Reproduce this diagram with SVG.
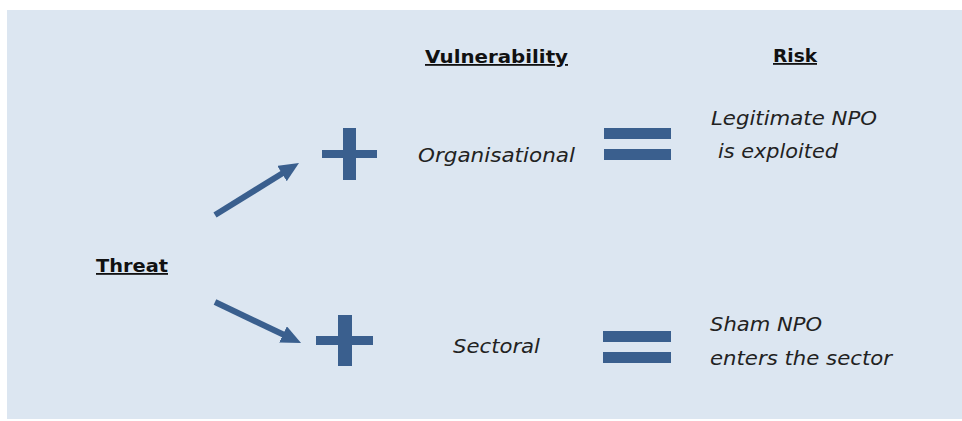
<svg xmlns="http://www.w3.org/2000/svg" width="962" height="421" viewBox="0 0 962 421">
<style>
.hd{font-family:"DejaVu Sans","Liberation Sans",sans-serif;font-weight:bold;font-size:18px;fill:#111;text-decoration:underline;}
.it{font-family:"DejaVu Sans","Liberation Sans",sans-serif;font-style:italic;font-size:19px;fill:#222;}
.sh{fill:#3a5f8e;}
.ar{stroke:#3a5f8e;stroke-width:6;fill:none;}
</style>
<defs>
<marker id="ah" markerUnits="userSpaceOnUse" markerWidth="20" markerHeight="18" refX="2" refY="9" orient="auto" viewBox="0 0 20 18">
<path d="M0,0 L20,9 L0,18 z" fill="#3a5f8e"/>
</marker>
</defs>
<rect x="0" y="0" width="962" height="421" fill="#ffffff"/>
<rect x="7" y="10" width="955" height="409" fill="#dce6f1"/>
<g id="header-vulnerability"><text class="hd" x="425" y="63" textLength="143" lengthAdjust="spacingAndGlyphs">Vulnerability</text></g>
<g id="header-risk"><text class="hd" x="773" y="62" textLength="44" lengthAdjust="spacingAndGlyphs">Risk</text></g>
<g id="threat"><text class="hd" x="96" y="272" textLength="72" lengthAdjust="spacingAndGlyphs">Threat</text></g>
<g id="plus-top" class="sh">
<rect x="322" y="150" width="55" height="8"/>
<rect x="343" y="128" width="13" height="52"/>
</g>
<g id="plus-bottom" class="sh">
<rect x="316" y="336" width="57" height="9"/>
<rect x="338" y="315" width="14" height="51"/>
</g>
<g id="organisational"><text class="it" x="418" y="162" textLength="157" lengthAdjust="spacingAndGlyphs">Organisational</text></g>
<g id="sectoral"><text class="it" x="453" y="353" textLength="87" lengthAdjust="spacingAndGlyphs">Sectoral</text></g>
<g id="equals-top" class="sh">
<rect x="604" y="128" width="67" height="11"/>
<rect x="604" y="149" width="67" height="11"/>
</g>
<g id="equals-bottom" class="sh">
<rect x="603" y="331" width="68" height="11"/>
<rect x="603" y="352" width="68" height="11"/>
</g>
<g id="risk-legitimate">
<text class="it" x="711" y="125" textLength="166" lengthAdjust="spacingAndGlyphs">Legitimate NPO</text>
<text class="it" x="718" y="158" textLength="120" lengthAdjust="spacingAndGlyphs">is exploited</text>
</g>
<g id="risk-sham">
<text class="it" x="710" y="331" textLength="112" lengthAdjust="spacingAndGlyphs">Sham NPO</text>
<text class="it" x="710" y="365" textLength="182" lengthAdjust="spacingAndGlyphs">enters the sector</text>
</g>
<g id="connectors">
<line class="ar" x1="215" y1="215" x2="283.7" y2="172.5" marker-end="url(#ah)"/>
<line class="ar" x1="215" y1="302" x2="284.8" y2="335.3" marker-end="url(#ah)"/>
</g>
</svg>
